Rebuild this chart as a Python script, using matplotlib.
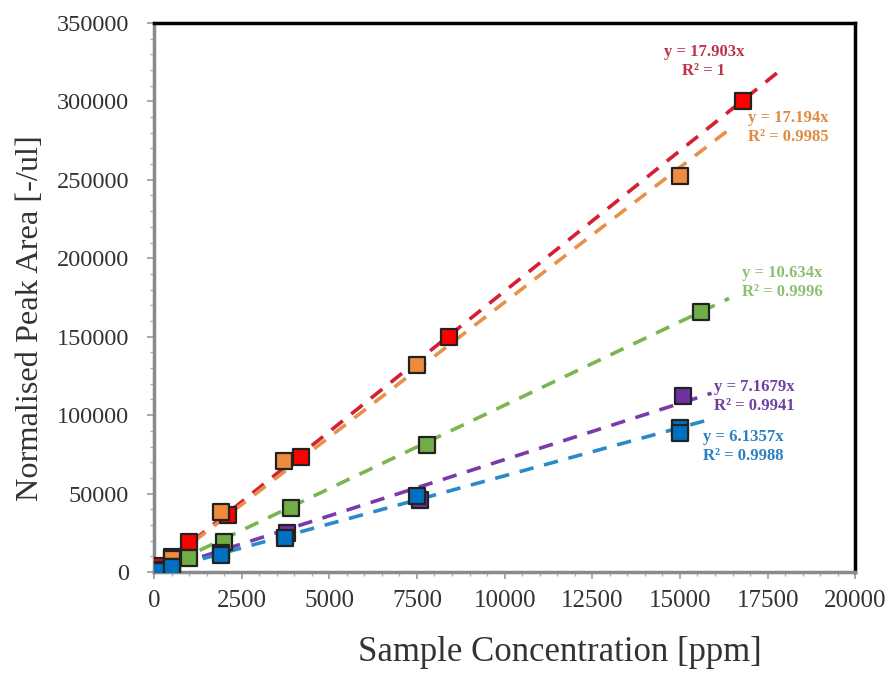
import numpy as np
import matplotlib.pyplot as plt
from matplotlib.ticker import MultipleLocator

# data (ppm vs normalised peak area)
red_x = [100, 500, 1000, 2100, 4200, 8400, 16800]
red_y = [4000, 9500, 19000, 36500, 73500, 149500, 300500]
orange_x = [100, 500, 1900, 3700, 7500, 15000]
orange_y = [1500, 8500, 38500, 71000, 132000, 252500]
green_x = [100, 500, 1000, 2000, 3900, 7800, 15600]
green_y = [0, 1500, 9000, 19000, 41000, 81000, 166000]
purple_x = [100, 500, 1900, 3800, 7600, 15100]
purple_y = [500, 3500, 12000, 25000, 46000, 112000]
blue_x = [100, 500, 1900, 3750, 7500, 15000, 15000]
blue_y = [500, 3000, 11000, 21500, 48500, 92000, 88500]

slopes = [17.903, 17.194, 10.634, 7.1679, 6.1357]
r2 = ['1', '0.9985', '0.9996', '0.9941', '0.9988']
line_end = [17800, 16400, 16400, 15900, 15800]

marker_cols = ['#ff0000', '#f08a3c', '#70ad47', '#7030a0', '#0070c0']
line_cols = ['#d42030', '#e8914a', '#7cb452', '#7a3aa8', '#2a8ac8']
text_cols = ['#c0304a', '#e08a40', '#8cc070', '#7040a0', '#2a80c0']

# text anchors (data coords)
lab_x = [15680, 16947, 16776, 15977, 15663]
lab_y = [325700, 283300, 184500, 112200, 79700]
lab_ha = ['center', 'left', 'left', 'left', 'left']

plt.rcParams['font.family'] = ['Liberation Serif', 'DejaVu Serif']

fig = plt.figure(figsize=(8.9, 6.73), dpi=100)
ax = fig.add_axes([0.173, 0.150, 0.788, 0.816])

xs = [red_x, orange_x, green_x, purple_x, blue_x]
ys = [red_y, orange_y, green_y, purple_y, blue_y]

# trendlines first, then markers on top
for i in range(5):
    lx = np.array([0, line_end[i]])
    ax.plot(lx, slopes[i] * lx, ls=(0, (4, 3)), lw=2.6, color=line_cols[i], zorder=2)

for i in range(5):
    ax.scatter(xs[i], ys[i], marker='s', s=140, c=marker_cols[i],
               edgecolors='#222222', linewidths=1.6, zorder=3)

for i in range(5):
    ax.text(lab_x[i], lab_y[i], 'y = %sx\nR² = %s' % (slopes[i], r2[i]),
            color=text_cols[i], fontsize=12, fontweight='bold', ha=lab_ha[i],
            va='center', linespacing=1.25, zorder=4)

ax.set_xlim(0, 20000)
ax.set_ylim(0, 350000)
ax.xaxis.set_major_locator(MultipleLocator(2500))
ax.xaxis.set_minor_locator(MultipleLocator(500))
ax.yaxis.set_major_locator(MultipleLocator(50000))
ax.yaxis.set_minor_locator(MultipleLocator(10000))

for s in ['left', 'bottom']:
    ax.spines[s].set_color('#8a8a8a')
    ax.spines[s].set_linewidth(2.5)
for s in ['top', 'right']:
    ax.spines[s].set_color('black')
    ax.spines[s].set_linewidth(2.5)

ax.tick_params(which='major', length=5, width=1.2, color='#9a9a9a',
               labelcolor='#333333', direction='out')
ax.tick_params(which='minor', length=3, width=1.0, color='#b0b0b0', direction='out')
ax.tick_params(axis='x', labelsize=18, pad=8)
ax.tick_params(axis='y', labelsize=17.5, pad=13)

ax.set_xlabel('Sample Concentration [ppm]', fontsize=25, color='#333333', labelpad=17)
ax.set_ylabel('Normalised Peak Area [-/ul]', fontsize=23.3, color='#333333', labelpad=8)
ax.xaxis.label.set_x(0.579)
ax.yaxis.label.set_y(0.463)

fig.savefig('out.png', dpi=100)
